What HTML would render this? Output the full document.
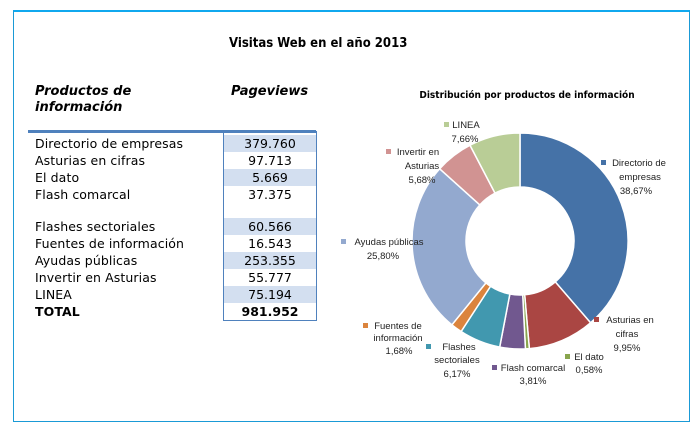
<!DOCTYPE html>
<html><head><meta charset="utf-8"><style>
body{margin:0;width:700px;height:430px;background:#fff;position:relative;overflow:hidden;font-family:"DejaVu Sans","Liberation Sans",sans-serif}
.frame{position:absolute;left:13px;top:10px;width:675px;height:409px;border:1px solid #1a9ad6;border-top:2px solid #10a8ee}
.t{position:absolute;white-space:nowrap;color:#000}
.r{position:absolute;left:35px;font-size:12.5px;font-family:"DejaVu Sans",sans-serif;letter-spacing:0.1px}
.v{position:absolute;left:224px;width:92px;text-align:center;font-size:12.5px;height:17px;line-height:17px}
.s{background:#d3dff0}
</style></head><body>
<div class="frame"></div>
<div class="t" style="left:229px;top:36px;font-weight:bold;font-size:13px;font-family:'DejaVu Sans Condensed','DejaVu Sans',sans-serif">Visitas Web en el año 2013</div>
<div class="t" style="left:35px;top:84px;font-weight:bold;font-style:italic;font-size:13px;line-height:16px">Productos de<br>información</div>
<div class="t" style="left:231px;top:84px;font-weight:bold;font-style:italic;font-size:13px;line-height:16px">Pageviews</div>
<div style="position:absolute;left:28px;top:130px;width:288px;height:3px;background:#4f81bd"></div>
<div style="position:absolute;left:223px;top:131px;width:92px;height:189px;border:1px solid #4f81bd;border-top:none"></div>
<div class="v s" style="top:135px">379.760</div>
<div class="v" style="top:152px">97.713</div>
<div class="v s" style="top:169px">5.669</div>
<div class="v" style="top:186px">37.375</div>
<div class="v s" style="top:218px">60.566</div>
<div class="v" style="top:235px">16.543</div>
<div class="v s" style="top:252px">253.355</div>
<div class="v" style="top:269px">55.777</div>
<div class="v s" style="top:286px">75.194</div>
<div class="v" style="top:303px;font-weight:bold">981.952</div>
<div class="r" style="top:135px;line-height:17px">Directorio de empresas</div>
<div class="r" style="top:152px;line-height:17px">Asturias en cifras</div>
<div class="r" style="top:169px;line-height:17px">El dato</div>
<div class="r" style="top:186px;line-height:17px">Flash comarcal</div>
<div class="r" style="top:218px;line-height:17px">Flashes sectoriales</div>
<div class="r" style="top:235px;line-height:17px">Fuentes de información</div>
<div class="r" style="top:252px;line-height:17px">Ayudas públicas</div>
<div class="r" style="top:269px;line-height:17px">Invertir en Asturias</div>
<div class="r" style="top:286px;line-height:17px">LINEA</div>
<div class="r" style="top:303px;line-height:17px;font-weight:bold">TOTAL</div>
<svg style="position:absolute;left:0;top:0" width="700" height="430" id="sv">
<g id="pie"></g>
<g font-family="'Liberation Sans',sans-serif" font-size="9.5" fill="#222" text-anchor="middle">
<text x="527" y="98" font-size="10" font-weight="bold" fill="#000" font-family="'DejaVu Sans Condensed',sans-serif">Distribución por productos de información</text>
<rect x="444" y="122" width="5" height="5" fill="#B9CD96"/><text x="466" y="128">LINEA</text><text x="465" y="142">7,66%</text>
<rect x="386" y="149" width="5" height="5" fill="#D19392"/><text x="418" y="155">Invertir en</text><text x="422" y="169">Asturias</text><text x="422" y="183">5,68%</text>
<rect x="601" y="160" width="5" height="5" fill="#4572A7"/><text x="639" y="166">Directorio de</text><text x="640" y="180">empresas</text><text x="636" y="194">38,67%</text>
<rect x="341" y="239" width="5" height="5" fill="#93A9CF"/><text x="389" y="245">Ayudas públicas</text><text x="383" y="259">25,80%</text>
<rect x="594" y="317" width="5" height="5" fill="#AA4643"/><text x="630" y="323">Asturias en</text><text x="627" y="337">cifras</text><text x="627" y="351">9,95%</text>
<rect x="363" y="323" width="5" height="5" fill="#DB843D"/><text x="398" y="329">Fuentes de</text><text x="398" y="341">información</text><text x="399" y="354">1,68%</text>
<rect x="426" y="344" width="5" height="5" fill="#4198AF"/><text x="459" y="350">Flashes</text><text x="457" y="363">sectoriales</text><text x="457" y="377">6,17%</text>
<rect x="565" y="354" width="5" height="5" fill="#89A54E"/><text x="589" y="360">El dato</text><text x="589" y="373">0,58%</text>
<rect x="492" y="365" width="5" height="5" fill="#71588F"/><text x="533" y="371">Flash comarcal</text><text x="533" y="384">3,81%</text>
</g>
</svg>
<script>
var d=[[38.67,"#4572A7"],[9.95,"#AA4643"],[0.58,"#89A54E"],[3.81,"#71588F"],[6.17,"#4198AF"],[1.68,"#DB843D"],[25.80,"#93A9CF"],[5.68,"#D19392"],[7.66,"#B9CD96"]];
var cx=520,cy=241,R=108,r=54,a=0,tot=100,h="";
function p(ang,rad){var t=ang/tot*2*Math.PI;return [cx+rad*Math.sin(t),cy-rad*Math.cos(t)];}
d.forEach(function(s){var b=a+s[0],l=s[0]>50?1:0,p1=p(a,R),p2=p(b,R),p3=p(b,r),p4=p(a,r);
h+='<path d="M'+p1+' A'+R+' '+R+' 0 '+l+' 1 '+p2+' L'+p3+' A'+r+' '+r+' 0 '+l+' 0 '+p4+' Z" fill="'+s[1]+'" stroke="#fff" stroke-width="1.5"/>';a=b;});
document.getElementById("pie").innerHTML=h;
</script>
</body></html>
